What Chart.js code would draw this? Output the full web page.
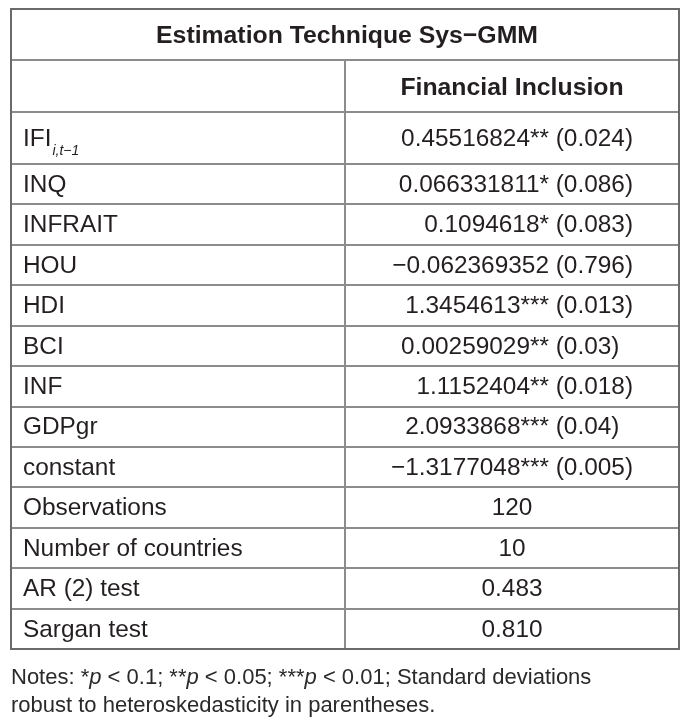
<!DOCTYPE html>
<html>
<head>
<meta charset="utf-8">
<script src="https://cdn.jsdelivr.net/npm/chart.js@4"></script>
<style>
  html, body { margin: 0; padding: 0; background: #fff; }
</style>
</head>
<body>
<canvas id="tbl" width="699" height="723"></canvas>
<script>
// table content
const title = 'Estimation Technique Sys\u2212GMM';
const colHeader = 'Financial Inclusion';
const rowLabels = ['IFI', 'INQ', 'INFRAIT', 'HOU', 'HDI', 'BCI', 'INF', 'GDPgr', 'constant',
  'Observations', 'Number of countries', 'AR (2) test', 'Sargan test'];
const coefs = ['0.45516824', '0.066331811', '0.1094618', '\u22120.062369352', '1.3454613',
  '0.00259029', '1.1152404', '2.0933868', '\u22121.3177048'];
const stars = ['**', '*', '*', '', '***', '**', '**', '***', '***'];
const stdErrs = ['0.024', '0.086', '0.083', '0.796', '0.013', '0.03', '0.018', '0.04', '0.005'];
const stats = ['120', '10', '0.483', '0.810'];
const notes = [
  [['Notes: *', false], ['p', true], [' < 0.1; **', false], ['p', true], [' < 0.05; ***', false], ['p', true], [' < 0.01; Standard deviations', false]],
  [['robust to heteroskedasticity in parentheses.', false]]
];

// row heights (px units on the y scale)
const heights = [51, 52, 52].concat(new Array(rowLabels.length - 1).fill(40.4));
const bounds = [0];
heights.forEach(h => bounds.push(bounds[bounds.length - 1] + h));
const centers = heights.map((h, i) => bounds[i] + h / 2);

const FONT = '"Liberation Sans", Arial, sans-serif';
const INK = '#231f20';

const tablePlugin = {
  id: 'tablePlugin',
  afterDraw(chart) {
    const ctx = chart.ctx;
    const xs = chart.scales.x, ys = chart.scales.y;
    const L = xs.getPixelForValue(0), R = xs.getPixelForValue(2), M = xs.getPixelForValue(1);
    const T = ys.getPixelForValue(0), B = ys.getPixelForValue(bounds[bounds.length - 1]);
    ctx.save();

    // inner lines
    ctx.strokeStyle = '#8c8c8c';
    ctx.lineWidth = 2;
    for (let i = 1; i < bounds.length - 1; i++) {
      const y = Math.round(ys.getPixelForValue(bounds[i]));
      ctx.beginPath(); ctx.moveTo(L, y); ctx.lineTo(R, y); ctx.stroke();
    }
    ctx.beginPath();
    ctx.moveTo(M, ys.getPixelForValue(bounds[1]));
    ctx.lineTo(M, B);
    ctx.stroke();
    // outer border
    ctx.strokeStyle = '#6a6a6a';
    ctx.strokeRect(L, T, R - L, B - T);

    ctx.fillStyle = INK;
    ctx.textBaseline = 'middle';

    // title + header
    ctx.font = 'bold 24.8px ' + FONT;
    ctx.textAlign = 'center';
    ctx.fillText(title, (L + R) / 2 + 2, ys.getPixelForValue(centers[0]) + 2);
    ctx.fillText(colHeader, (M + R) / 2, ys.getPixelForValue(centers[1]) + 2);

    // row labels
    ctx.font = '24.4px ' + FONT;
    ctx.textAlign = 'left';
    rowLabels.forEach((lab, i) => {
      const y = ys.getPixelForValue(centers[i + 2]) + 1;
      ctx.fillText(lab, L + 12, y);
      if (i === 0) {
        const w = ctx.measureText(lab).width;
        ctx.font = 'italic 14px ' + FONT;
        ctx.fillText('i,t\u22121', L + 12 + w + 1, y + 12);
        ctx.font = '24.4px ' + FONT;
      }
    });

    // coefficients, right aligned with SE padded to 3 decimals
    ctx.textAlign = 'right';
    const zeroW = ctx.measureText('0').width;
    coefs.forEach((c, i) => {
      const y = ys.getPixelForValue(centers[i + 2]) + 1;
      const pad = (5 - stdErrs[i].length) * zeroW;
      ctx.fillText(c + stars[i] + ' (' + stdErrs[i] + ')', R - 46 - pad, y);
    });

    // summary statistics, centred
    ctx.textAlign = 'center';
    stats.forEach((s, i) => {
      const y = ys.getPixelForValue(centers[coefs.length + i + 2]) + 1;
      ctx.fillText(s, (M + R) / 2, y);
    });

    // notes under the table
    ctx.textAlign = 'left';
    ctx.textBaseline = 'alphabetic';
    notes.forEach((line, li) => {
      let x = L;
      const y = B + 35 + li * 28;
      line.forEach(([txt, it]) => {
        ctx.font = (it ? 'italic ' : '') + '22px ' + FONT;
        ctx.fillStyle = '#2a2a2a';
        ctx.fillText(txt, x, y);
        x += ctx.measureText(txt).width;
      });
    });
    ctx.restore();
  }
};

new Chart(document.getElementById('tbl'), {
  type: 'scatter',
  data: {
    datasets: [{
      data: centers.map(c => ({ x: 1, y: c })),
      pointRadius: 0
    }]
  },
  options: {
    responsive: false,
    animation: false,
    layout: { padding: { left: 11, top: 9, right: 20, bottom: 723 - 649 } },
    plugins: { legend: { display: false }, tooltip: { enabled: false } },
    scales: {
      x: { type: 'linear', min: 0, max: 2, display: false },
      y: { type: 'linear', min: 0, max: bounds[bounds.length - 1], reverse: true, display: false }
    }
  },
  plugins: [tablePlugin]
});
</script>
</body>
</html>
